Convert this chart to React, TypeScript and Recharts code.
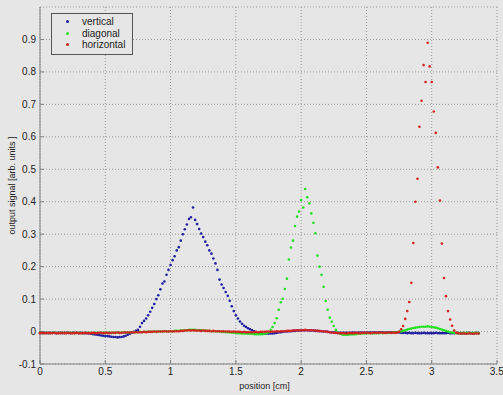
import React from 'react';
import { ScatterChart, Scatter, XAxis, YAxis, CartesianGrid, Legend } from 'recharts';

// sample positions (cm)
const positions = [
  0, 0.016, 0.031, 0.047, 0.063, 0.078, 0.094, 0.109, 0.125, 0.141, 0.156, 0.172, 0.188, 0.203, 0.219, 0.234,
  0.25, 0.266, 0.281, 0.297, 0.313, 0.328, 0.344, 0.359, 0.375, 0.391, 0.406, 0.422, 0.438, 0.453, 0.469, 0.484,
  0.5, 0.516, 0.531, 0.547, 0.563, 0.578, 0.594, 0.609, 0.625, 0.641, 0.656, 0.672, 0.688, 0.703, 0.719, 0.734,
  0.75, 0.766, 0.781, 0.797, 0.813, 0.828, 0.844, 0.859, 0.875, 0.891, 0.906, 0.922, 0.938, 0.953, 0.969, 0.984,
  1, 1.016, 1.031, 1.047, 1.063, 1.078, 1.094, 1.109, 1.125, 1.141, 1.156, 1.172, 1.188, 1.203, 1.219, 1.234,
  1.25, 1.266, 1.281, 1.297, 1.313, 1.328, 1.344, 1.359, 1.375, 1.391, 1.406, 1.422, 1.438, 1.453, 1.469, 1.484,
  1.5, 1.516, 1.531, 1.547, 1.563, 1.578, 1.594, 1.609, 1.625, 1.641, 1.656, 1.672, 1.688, 1.703, 1.719, 1.734,
  1.75, 1.766, 1.781, 1.797, 1.813, 1.828, 1.844, 1.859, 1.875, 1.891, 1.906, 1.922, 1.938, 1.953, 1.969, 1.984,
  2, 2.016, 2.031, 2.047, 2.063, 2.078, 2.094, 2.109, 2.125, 2.141, 2.156, 2.172, 2.188, 2.203, 2.219, 2.234,
  2.25, 2.266, 2.281, 2.297, 2.313, 2.328, 2.344, 2.359, 2.375, 2.391, 2.406, 2.422, 2.438, 2.453, 2.469, 2.484,
  2.5, 2.516, 2.531, 2.547, 2.563, 2.578, 2.594, 2.609, 2.625, 2.641, 2.656, 2.672, 2.688, 2.703, 2.719, 2.734,
  2.75, 2.766, 2.781, 2.797, 2.813, 2.828, 2.844, 2.859, 2.875, 2.891, 2.906, 2.922, 2.938, 2.953, 2.969, 2.984,
  3, 3.016, 3.031, 3.047, 3.063, 3.078, 3.094, 3.109, 3.125, 3.141, 3.156, 3.172, 3.188, 3.203, 3.219, 3.234,
  3.25, 3.266, 3.281, 3.297, 3.313, 3.328, 3.344, 3.359,
];

const vertical = [
  -0.004, -0.005, -0.004, -0.004, -0.005, -0.004, -0.004, -0.004, -0.005, -0.004, -0.004, -0.005, -0.004, -0.004, -0.004, -0.005,
  -0.004, -0.004, -0.004, -0.005, -0.004, -0.005, -0.005, -0.005, -0.006, -0.007, -0.008, -0.009, -0.010, -0.011, -0.012, -0.013,
  -0.014, -0.014, -0.015, -0.016, -0.017, -0.017, -0.018, -0.017, -0.017, -0.015, -0.013, -0.010, -0.007, -0.004, -0.001, 0.002,
  0.005, 0.015, 0.026, 0.033, 0.040, 0.050, 0.061, 0.073, 0.085, 0.100, 0.112, 0.130, 0.148, 0.154, 0.175, 0.190,
  0.205, 0.220, 0.232, 0.250, 0.260, 0.280, 0.300, 0.315, 0.330, 0.347, 0.352, 0.382, 0.344, 0.331, 0.316, 0.302,
  0.291, 0.277, 0.266, 0.250, 0.240, 0.225, 0.210, 0.190, 0.160, 0.145, 0.134, 0.122, 0.110, 0.095, 0.078, 0.063,
  0.050, 0.040, 0.031, 0.024, 0.018, 0.014, 0.010, 0.007, 0.004, 0.001, -0.002, -0.004, -0.005, -0.006, -0.007, -0.007,
  -0.007, -0.006, -0.006, -0.005, -0.004, -0.003, -0.002, -0.001, 0, 0, 0.001, 0.001, 0.002, 0.002, 0.003, 0.003,
  0.003, 0.004, 0.004, 0.004, 0.003, 0.003, 0.003, 0.002, 0.002, 0.001, 0.001, 0, 0, -0.001, -0.002, -0.002,
  -0.003, -0.003, -0.004, -0.004, -0.004, -0.004, -0.004, -0.004, -0.004, -0.003, -0.003, -0.004, -0.003, -0.003, -0.003, -0.003,
  -0.003, -0.003, -0.002, -0.003, -0.002, -0.003, -0.002, -0.002, -0.002, -0.003, -0.002, -0.002, -0.002, -0.003, -0.002, -0.003,
  -0.003, -0.004, -0.004, -0.004, -0.005, -0.004, -0.005, -0.005, -0.004, -0.005, -0.005, -0.005, -0.004, -0.005, -0.005, -0.005,
  -0.005, -0.005, -0.004, -0.005, -0.005, -0.005, -0.005, -0.005, -0.004, -0.005, -0.005, -0.005, -0.004, -0.005, -0.005, -0.005,
  -0.005, -0.005, -0.004, -0.005, -0.005, -0.005, -0.004, -0.005,
];

const diagonal = [
  -0.004, -0.004, -0.005, -0.004, -0.004, -0.005, -0.004, -0.004, -0.004, -0.005, -0.004, -0.004, -0.005, -0.004, -0.004, -0.004,
  -0.004, -0.005, -0.004, -0.004, -0.004, -0.005, -0.004, -0.004, -0.004, -0.004, -0.005, -0.004, -0.004, -0.004, -0.004, -0.004,
  -0.004, -0.004, -0.003, -0.004, -0.004, -0.003, -0.003, -0.004, -0.003, -0.003, -0.003, -0.002, -0.003, -0.002, -0.002, -0.002,
  -0.002, -0.001, -0.002, -0.001, -0.001, -0.001, 0, -0.001, 0, 0, 0, 0.001, 0, 0.001, 0.001, 0.001,
  0.001, 0.001, 0.002, 0.002, 0.002, 0.003, 0.003, 0.004, 0.004, 0.005, 0.005, 0.005, 0.005, 0.004, 0.004, 0.004,
  0.003, 0.003, 0.002, 0.002, 0.001, 0.001, 0.001, 0, 0, -0.001, -0.001, -0.002, -0.002, -0.003, -0.003, -0.004,
  -0.004, -0.005, -0.005, -0.006, -0.006, -0.006, -0.007, -0.007, -0.007, -0.008, -0.008, -0.008, -0.008, -0.008, -0.007, -0.006,
  -0.003, 0.005, 0.014, 0.026, 0.041, 0.067, 0.090, 0.101, 0.131, 0.163, 0.222, 0.259, 0.280, 0.325, 0.354, 0.370,
  0.405, 0.382, 0.439, 0.414, 0.395, 0.364, 0.335, 0.303, 0.234, 0.200, 0.175, 0.138, 0.094, 0.067, 0.043, 0.030,
  0.017, 0.005, -0.003, -0.007, -0.009, -0.010, -0.010, -0.010, -0.009, -0.009, -0.008, -0.008, -0.007, -0.007, -0.006, -0.006,
  -0.006, -0.005, -0.005, -0.006, -0.005, -0.005, -0.005, -0.004, -0.005, -0.004, -0.004, -0.004, -0.004, -0.003, -0.003, -0.002,
  -0.001, 0, 0.002, 0.004, 0.006, 0.008, 0.009, 0.011, 0.012, 0.013, 0.014, 0.015, 0.015, 0.015, 0.016, 0.015,
  0.014, 0.013, 0.012, 0.010, 0.008, 0.006, 0.004, 0.002, 0, -0.002, -0.003, -0.004, -0.005, -0.005, -0.005, -0.005,
  -0.005, -0.004, -0.005, -0.005, -0.004, -0.005, -0.004, -0.005,
];

const horizontal = [
  -0.005, -0.004, -0.005, -0.005, -0.004, -0.005, -0.005, -0.004, -0.005, -0.005, -0.005, -0.004, -0.005, -0.005, -0.004, -0.005,
  -0.005, -0.005, -0.004, -0.005, -0.005, -0.005, -0.004, -0.005, -0.005, -0.005, -0.004, -0.005, -0.005, -0.004, -0.004, -0.005,
  -0.004, -0.004, -0.005, -0.004, -0.004, -0.004, -0.003, -0.004, -0.004, -0.003, -0.003, -0.003, -0.003, -0.002, -0.003, -0.002,
  -0.002, -0.002, -0.002, -0.001, -0.002, -0.001, -0.001, -0.001, 0, -0.001, 0, 0, 0, 0.001, 0, 0,
  0.001, 0, 0.001, 0.001, 0.001, 0.002, 0.002, 0.003, 0.003, 0.004, 0.003, 0.004, 0.003, 0.003, 0.003, 0.002,
  0.003, 0.002, 0.002, 0.002, 0.001, 0.002, 0.001, 0.001, 0.001, 0, 0.001, 0, 0, 0, -0.001, 0,
  -0.001, -0.001, -0.001, -0.002, -0.001, -0.002, -0.002, -0.002, -0.002, -0.002, -0.001, -0.002, -0.001, -0.001, -0.001, 0,
  0, -0.001, 0, 0, 0.001, 0, 0.001, 0.001, 0.001, 0.002, 0.002, 0.002, 0.003, 0.003, 0.004, 0.003,
  0.004, 0.004, 0.005, 0.004, 0.004, 0.004, 0.003, 0.003, 0.002, 0.002, 0.001, 0, 0, -0.001, -0.002, -0.003,
  -0.004, -0.004, -0.005, -0.005, -0.005, -0.005, -0.006, -0.005, -0.005, -0.005, -0.005, -0.004, -0.005, -0.005, -0.004, -0.004,
  -0.004, -0.004, -0.005, -0.004, -0.004, -0.004, -0.004, -0.003, -0.004, -0.004, -0.004, -0.003, -0.004, -0.003, -0.004, -0.003,
  -0.001, 0.007, 0.017, 0.039, 0.063, 0.091, 0.150, 0.273, 0.400, 0.471, 0.631, 0.711, 0.821, 0.769, 0.890, 0.817,
  0.769, 0.678, 0.612, 0.506, 0.404, 0.271, 0.165, 0.109, 0.063, 0.037, 0.018, 0.003, -0.004, -0.005, -0.006, -0.006,
  -0.006, -0.007, -0.006, -0.006, -0.007, -0.006, -0.006, -0.006,
];

const seriesNames = ['vertical', 'diagonal', 'horizontal'];
const seriesValues = [vertical, diagonal, horizontal];
const seriesColors = ['#1e1e9e', '#22e022', '#d42222'];

const xTicks = [0, 0.5, 1, 1.5, 2, 2.5, 3, 3.5];
const yTicks = [-0.1, 0, 0.1, 0.2, 0.3, 0.4, 0.5, 0.6, 0.7, 0.8, 0.9];

const FONT = '"Liberation Sans", Arial, Helvetica, sans-serif';
const BG = '#e6e6e6';

const toPoints = (values: number[]) => positions.map((x, i) => ({ x, y: values[i] }));

const makeDot = (color: string) => (p: any) => (
  <circle cx={p.cx} cy={p.cy} r={1.3} fill={color} />
);

const YTitle = (props: any) => {
  const vb = props.viewBox || { x: 0, y: 0, width: 0, height: 0 };
  const cx = vb.x + 12;
  const cy = vb.y + vb.height / 2;
  return (
    <text x={cx} y={cy} transform={`rotate(-90 ${cx} ${cy})`} textAnchor="middle" dominantBaseline="central"
      fontSize={9} fill="#222" fontFamily={FONT}>
      output signal [arb. units ]
    </text>
  );
};

const XTitle = (props: any) => {
  const vb = props.viewBox || { x: 0, y: 0, width: 0, height: 0 };
  const cx = vb.x + vb.width / 2 - 4;
  const cy = vb.y + 22;
  return (
    <text x={cx} y={cy} textAnchor="middle" dominantBaseline="central" fontSize={9} fill="#222" fontFamily={FONT}>
      position [cm]
    </text>
  );
};

const LegendBox = () => (
  <div style={{ border: '1px solid #555', background: BG, padding: '2px 0 3px 0', width: 80, fontFamily: FONT, fontSize: 10, color: '#222' }}>
    {seriesNames.map((n, i) => (
      <div key={n} style={{ display: 'flex', alignItems: 'center', height: 11.5, lineHeight: '11.5px' }}>
        <span style={{ display: 'inline-block', width: 3, height: 3, borderRadius: '50%', background: seriesColors[i], marginLeft: 14, marginRight: 13 }} />
        <span>{n}</span>
      </div>
    ))}
  </div>
);

export default function App() {
  return (
    <div style={{ position: 'absolute', left: 0, top: 0, width: 503, height: 395, background: BG }}>
      <ScatterChart width={503} height={395} margin={{ top: 7, right: 6, bottom: 0, left: 0 }}>
        <CartesianGrid stroke="#9a9a9a" strokeDasharray="1 2" />
        <XAxis type="number" dataKey="x" domain={[0, 3.5]} ticks={xTicks} height={31}
          axisLine={{ stroke: '#808080' }} tickLine={{ stroke: '#808080' }} tickSize={-4} tickMargin={8}
          tick={{ fontSize: 10, fill: '#222', fontFamily: FONT }} tickFormatter={(v: number) => String(v)}
          label={{ content: XTitle }} />
        <YAxis type="number" dataKey="y" domain={[-0.1, 1]} ticks={yTicks} width={40}
          axisLine={{ stroke: '#808080' }} tickLine={{ stroke: '#808080' }} tickSize={-4} tickMargin={8}
          tick={{ fontSize: 10, fill: '#222', fontFamily: FONT }} tickFormatter={(v: number) => String(v)}
          label={{ content: YTitle }} />
        <Legend layout="vertical" align="center" verticalAlign="middle" content={LegendBox}
          wrapperStyle={{ left: 51, top: 13, width: 'auto', height: 'auto' }} />
        {seriesNames.map((n, i) => (
          <Scatter key={n} name={n} data={toPoints(seriesValues[i])} fill={seriesColors[i]}
            shape={makeDot(seriesColors[i])} isAnimationActive={false} />
        ))}
      </ScatterChart>
    </div>
  );
}
